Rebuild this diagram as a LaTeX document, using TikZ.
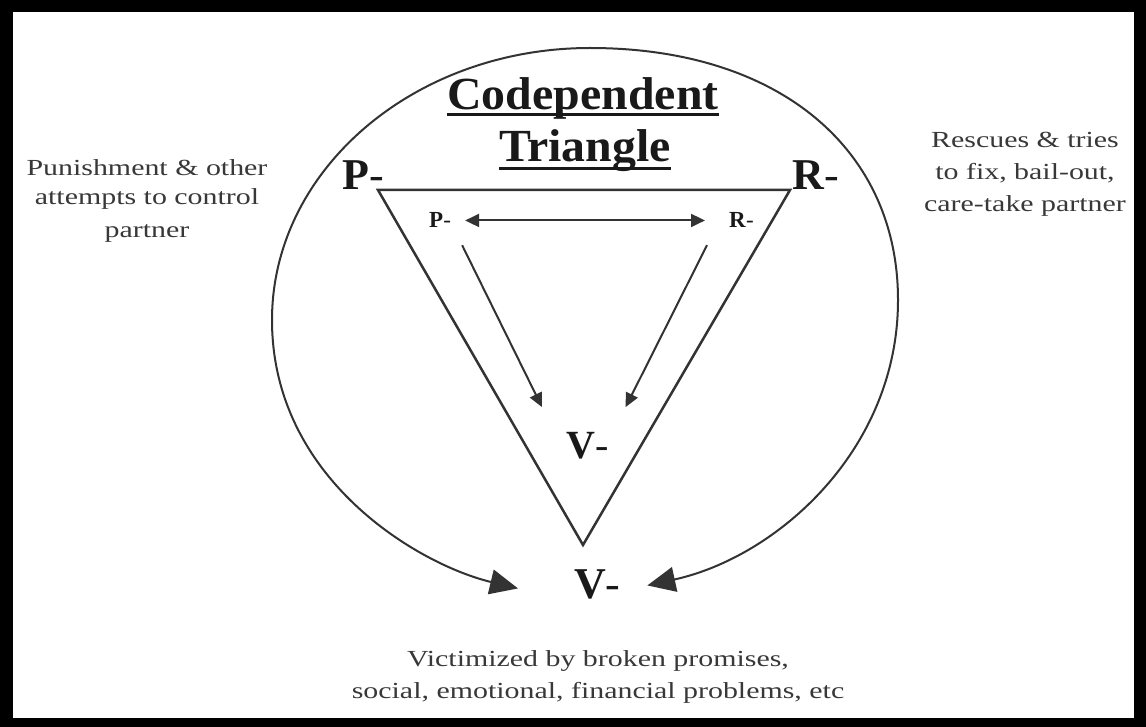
\documentclass[tikz,border=0pt]{standalone}
\usepackage{fontspec}
\setmainfont{Liberation Serif}
\usepackage{graphicx}
\usetikzlibrary{arrows.meta}
\definecolor{ink}{gray}{0.1}
\definecolor{lineink}{gray}{0.2}
\definecolor{sideink}{gray}{0.22}
\newcommand\sidetext[2]{\scalebox{1.3}[1]{\fontsize{23}{#1}\selectfont\begin{tabular}[t]{@{}c@{}}#2\end{tabular}}}
\newcommand\wideish[1]{\scalebox{1.04}[1]{#1}}
\begin{document}
\begin{tikzpicture}[x=1pt,y=-1pt,
  biglbl/.style={inner sep=0pt, anchor=base west, text=ink, font={\fontsize{44}{48}\selectfont\bfseries}},
  smalllbl/.style={inner sep=0pt, anchor=base west, text=ink, font={\fontsize{23}{26}\selectfont\bfseries}},
  midlbl/.style={inner sep=0pt, anchor=base west, text=ink, font={\fontsize{40}{44}\selectfont\bfseries}},
  titlelbl/.style={inner sep=0pt, anchor=base, text=ink, font={\fontsize{46}{50}\selectfont\bfseries}},
  sidetxt/.style={inner sep=0pt, anchor=base, text=sideink},
  uline/.style={draw=ink, line width=3pt},
  tri/.style={draw=lineink, line width=2.5pt, line join=miter},
  inarrow/.style={draw=lineink, line width=2pt, -{Triangle[length=14pt,width=13pt]}},
  inbiarrow/.style={draw=lineink, line width=2pt, {Triangle[length=14pt,width=13pt]}-{Triangle[length=14pt,width=13pt]}},
  bigarrow/.style={draw=lineink, line width=2pt, -{Triangle[length=28pt,width=25pt]}}
]
\useasboundingbox (0,0) rectangle (1146,727);
\fill[black] (0,0) rectangle (1146,727);
\fill[white] (13,12) rectangle (1134,718);

% title
\node[titlelbl] (t1) at (583,110) {\wideish{Codependent}};
\node[titlelbl] (t2) at (585,162) {\wideish{Triangle}};
\draw[uline] ([yshift=-5pt]t1.base west) -- ([yshift=-5pt]t1.base east);
\draw[uline] ([yshift=-7pt]t2.base west) -- ([yshift=-7pt]t2.base east);

% triangle
\coordinate (A) at (378,190);
\coordinate (B) at (790,190);
\coordinate (C) at (583,545);
\draw[tri] (A) -- (B) -- (C) -- cycle;

% corner labels
\node[biglbl] (P) at (342,190) {P\textmd{-}};
\node[biglbl] (R) at (792,190) {R\textmd{-}};
\node[smalllbl] (ip) at (429,228) {P\textmd{-}};
\node[smalllbl] (ir) at (729,228) {R\textmd{-}};
\node[midlbl] (iv) at (566,458) {V\textmd{-}};
\node[biglbl] (ov) at (574,598) {V\textmd{-}};

% inner arrows
\draw[inbiarrow] ([xshift=14pt]ip.east) -- ([xshift=-24pt]ir.west);
\draw[inarrow] ([shift={(11,17)}]ip.south east) -- ([shift={(-24,-24.5)}]iv.north west);
\draw[inarrow] ([shift={(-22,17)}]ir.south west) -- ([shift={(17,-24.5)}]iv.north east);

% outer curved arrows
\coordinate (top) at (590,48);
\coordinate (lm) at (272,320);
\coordinate (rm) at (898,300);
\coordinate (lt) at ([shift={(-56,4.5)}]ov.west);
\coordinate (rt) at ([shift={(26.5,1.5)}]ov.east);
\draw[bigarrow] (top) .. controls (414,48) and (272,170) .. (lm)
  .. controls (272,480) and (420,565) .. (lt);
\draw[bigarrow] (top) .. controls (780,48) and (898,150) .. (rm)
  .. controls (898,450) and (777,557) .. (rt);

% side texts
\node[sidetxt] (pun) at (147,176) {\sidetext{29}{Punishment \& other\\attempts to control\\[4pt]partner}};
\node[sidetxt] (res) at (1025,148) {\sidetext{32}{Rescues \& tries\\to fix, bail-out,\\care-take partner}};
\node[sidetxt] (vic) at (598,666) {\sidetext{32}{Victimized by broken promises,\\social, emotional, financial problems, etc}};
\end{tikzpicture}
\end{document}
